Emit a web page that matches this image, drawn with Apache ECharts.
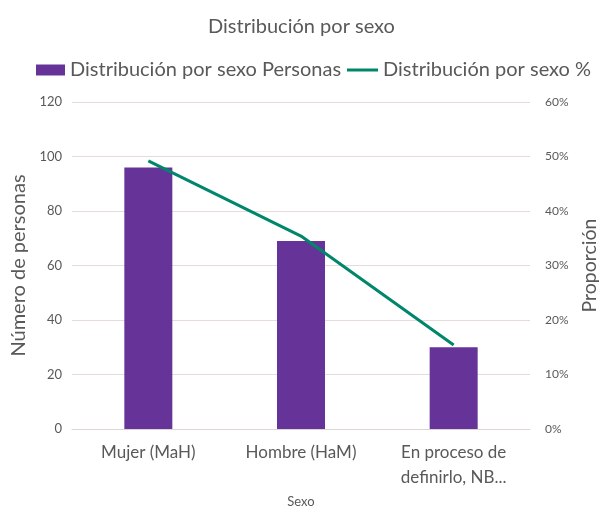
<!DOCTYPE html>
<html>
<head>
<meta charset="utf-8">
<script src="https://cdn.jsdelivr.net/npm/echarts@6/dist/echarts.min.js"></script>
<style>html,body{margin:0;padding:0;background:#fff;overflow:hidden}#c{width:603px;height:506px}</style>
</head>
<body>
<div id="c"></div>
<script>
const categories = ['Mujer (MaH)', 'Hombre (HaM)', 'En proceso de\ndefinirlo, NB...'];
const personas = [96, 69, 30];
const proporcion = [0.492, 0.354, 0.154];
const leftTicks = [0, 20, 40, 60, 80, 100, 120];
const rightTicks = ['0%', '10%', '20%', '30%', '40%', '50%', '60%'];

const FONT = 'Lato';
const TXT = '#595959';
const chart = echarts.init(document.getElementById('c'));
chart.setOption({
  backgroundColor: '#ffffff',
  textStyle: { fontFamily: FONT },
  title: {
    text: 'Distribución por sexo',
    left: 'center', top: 12,
    textStyle: { fontFamily: FONT, fontSize: 20, fontWeight: 'normal', color: TXT }
  },
  legend: [
    {
      left: 31, top: 55,
      itemWidth: 29, itemHeight: 11,
      textStyle: { fontFamily: FONT, fontSize: 20, color: TXT },
      data: [{ name: 'Distribución por sexo Personas', icon: 'rect' }]
    },
    {
      left: 342, top: 55,
      itemWidth: 31, itemHeight: 3,
      textStyle: { fontFamily: FONT, fontSize: 20, color: TXT },
      data: [{ name: 'Distribución por sexo %', icon: 'rect', itemStyle: { color: '#00876B' } }]
    }
  ],
  grid: { left: 72, right: 73, top: 102, bottom: 77, containLabel: false, outerBoundsMode: 'none' },
  xAxis: {
    type: 'category',
    data: categories,
    name: 'Sexo',
    nameLocation: 'middle',
    nameGap: 63,
    nameTextStyle: { fontFamily: FONT, fontSize: 13, color: TXT },
    axisLine: { lineStyle: { color: '#DCD5D2' } },
    axisTick: { show: false },
    axisLabel: { fontFamily: FONT, fontSize: 17, color: TXT, margin: 11, lineHeight: 25, interval: 0 }
  },
  yAxis: [
    {
      type: 'value', min: 0, max: 120, interval: 20,
      name: 'Número de personas',
      nameLocation: 'middle', nameGap: 34,
      nameTextStyle: { fontFamily: FONT, fontSize: 20, color: TXT },
      axisLine: { show: false }, axisTick: { show: false },
      axisLabel: { fontFamily: FONT, fontSize: 13, color: TXT, margin: 10,
        formatter: v => String(leftTicks[Math.round(v / 20)]) },
      splitLine: { lineStyle: { color: '#E5DCD9', width: 1 } }
    },
    {
      type: 'value', min: 0, max: 0.6, interval: 0.1,
      name: 'Proporción',
      nameLocation: 'middle', nameGap: 44,
      nameTextStyle: { fontFamily: FONT, fontSize: 19.5, color: TXT },
      axisLine: { show: false }, axisTick: { show: false },
      axisLabel: { fontFamily: FONT, fontSize: 12, color: TXT, margin: 15,
        formatter: v => rightTicks[Math.round(v * 10)] },
      splitLine: { show: false }
    }
  ],
  series: [
    {
      name: 'Distribución por sexo Personas',
      type: 'bar',
      yAxisIndex: 0,
      data: personas,
      barWidth: 48,
      itemStyle: { color: '#663399' }
    },
    {
      name: 'Distribución por sexo %',
      type: 'line',
      yAxisIndex: 1,
      data: proporcion,
      symbol: 'none',
      lineStyle: { color: '#00876B', width: 3 },
      itemStyle: { color: '#00876B' }
    }
  ]
});
</script>
</body>
</html>
